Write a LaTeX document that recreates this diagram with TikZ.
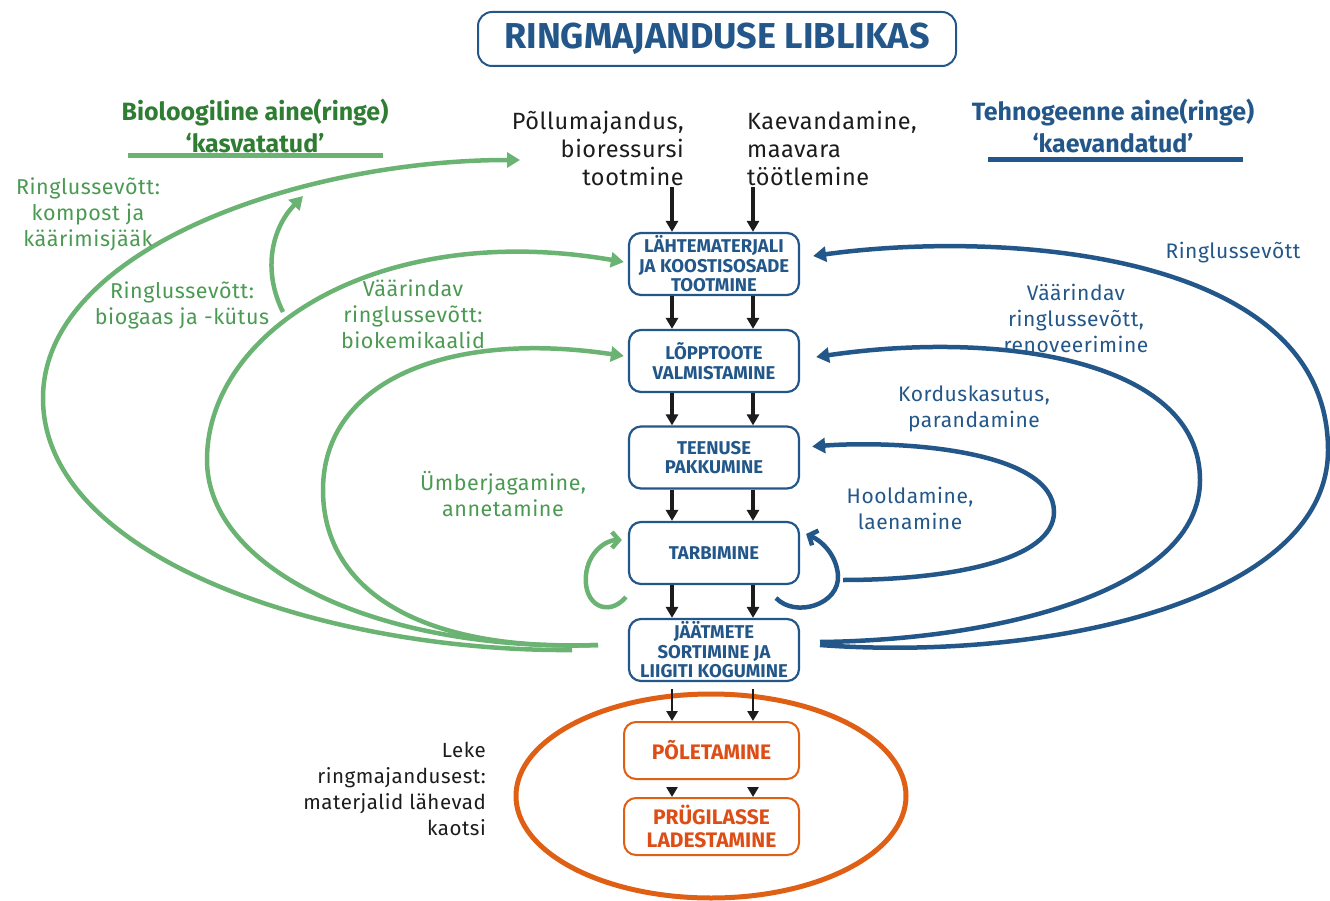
\documentclass[tikz,border=0pt]{standalone}
\usepackage{fontspec}
\setmainfont{Fira Sans}
\newfontfamily\lblfont{Fira Sans}[LetterSpace=2.5]
\usetikzlibrary{arrows.meta}
\definecolor{cblue}{HTML}{23578A}
\definecolor{cgreen}{HTML}{6BB373}
\definecolor{cgreentxt}{HTML}{4A9A52}
\definecolor{cgreenhead}{HTML}{2E7D33}
\definecolor{corange}{HTML}{DF5F14}
\definecolor{corangetxt}{HTML}{DD4E17}
\definecolor{cblack}{HTML}{1C1C1C}
\tikzset{
  stagebox/.style={draw=cblue, line width=2.2pt, rounded corners=12pt, fill=white,
    minimum width=170pt, minimum height=62pt, inner sep=1pt, align=center,
    text=cblue, font=\fontsize{18.5}{19.5}\selectfont\bfseries},
  lossbox/.style={draw=corange, line width=2pt, rounded corners=12pt, fill=white,
    minimum width=175pt, minimum height=57pt, inner sep=2pt, align=center,
    text=corangetxt, font=\fontsize{21}{23}\selectfont\bfseries},
  blkarrow/.style={draw=cblack, line width=3.5pt, -{Triangle[length=11pt,width=12pt]}},
  thinarrow/.style={draw=cblack, line width=2.5pt, -{Triangle[length=10pt,width=11pt]}},
  greenloop/.style={draw=cgreen, line width=4.5pt, -{Triangle[length=13pt,width=15pt]}},
  blueloop/.style={draw=cblue, line width=4.5pt, -{Triangle[length=13pt,width=15pt]}},
  greensmall/.style={draw=cgreen, line width=4.5pt, -{Straight Barb[length=7pt,width=16pt]}},
  bluesmall/.style={draw=cblue, line width=4.5pt, -{Straight Barb[length=7pt,width=16pt]}},
  srctext/.style={inner sep=0pt, text=cblack, font=\lblfont\fontsize{23.5}{28}\selectfont},
  greenlabel/.style={inner sep=0pt, align=center, text=cgreentxt, font=\lblfont\fontsize{21.5}{26}\selectfont},
  bluelabel/.style={inner sep=0pt, align=center, text=cblue, font=\lblfont\fontsize{21}{26}\selectfont},
  headtext/.style={inner sep=0pt, align=center, font=\fontsize{25}{32}\selectfont\bfseries},
}
\begin{document}
\begin{tikzpicture}[x=1pt,y=-1pt]
\useasboundingbox (0,0) rectangle (1330,901);

% title
\node[draw=cblue, line width=2pt, rounded corners=14pt, minimum width=478pt, minimum height=54pt,
  text=cblue, font=\fontsize{36}{38}\selectfont\bfseries] (title) at (717,39) {RINGMAJANDUSE LIBLIKAS};

% headings
\node[headtext, text=cgreenhead] (headL) at (255,126) {Bioloogiline aine(ringe)\\‘kasvatatud’};
\node[headtext, text=cblue] (headR) at (1113,126) {Tehnogeenne aine(ringe)\\‘kaevandatud’};
\draw[cgreen, line width=5pt] (128,156) -- (383,156);
\draw[cblue, line width=5pt] (988,160) -- (1243,160);

% sources
\node[srctext, align=right, anchor=east] (srcL) at (684,148) {Põllumajandus,\\bioressursi\\tootmine};
\node[srctext, align=left, anchor=west] (srcR) at (747,148) {Kaevandamine,\\maavara\\töötlemine};

% stage boxes
\node[stagebox] (b1) at (714,264) {LÄHTEMATERJALI\\JA KOOSTISOSADE\\TOOTMINE};
\node[stagebox] (b2) at (714,361) {LÕPPTOOTE\\VALMISTAMINE};
\node[stagebox] (b3) at (714,457.5) {TEENUSE\\PAKKUMINE};
\node[stagebox] (b4) at (714,553) {TARBIMINE};
\node[stagebox] (b5) at (714,650) {JÄÄTMETE\\SORTIMINE JA\\LIIGITI KOGUMINE};
\node[lossbox] (b6) at (711.5,750.5) {PÕLETAMINE};
\node[lossbox] (b7) at (711.5,826.5) {PRÜGILASSE\\LADESTAMINE};

% leak ellipse
\draw[corange, line width=5pt] (711,796) ellipse [x radius=195, y radius=102];
\node[inner sep=0pt, align=right, anchor=east, text=cblack, font=\lblfont\fontsize{20.5}{26}\selectfont] (leke) at (486,789)
  {Leke\\ringmajandusest:\\materjalid lähevad\\kaotsi};

% black arrows
\coordinate (sL) at (672,187);
\coordinate (sR) at (753,187);
\draw[blkarrow] (sL) -- (b1.north -| sL);
\draw[blkarrow] (sR) -- (b1.north -| sR);
\foreach \a/\b in {b1/b2,b2/b3,b3/b4,b4/b5}{
  \draw[blkarrow] (\a.south -| sL) -- (\b.north -| sL);
  \draw[blkarrow] (\a.south -| sR) -- (\b.north -| sR);
}
\foreach \a/\b in {b5/b6,b6/b7}{
  \draw[thinarrow] ([yshift=-7pt]\a.south -| sL) -- (\b.north -| sL);
  \draw[thinarrow] ([yshift=-7pt]\a.south -| sR) -- (\b.north -| sR);
}

% green curves
\coordinate (gA) at (572,650);
\coordinate (gB) at (598,645);
\coordinate (gTop) at (520,160);
\coordinate (gBr) at (283,312);
\coordinate (gBrEnd) at (303,196);
\draw[greenloop] (gA) .. controls (330,652) and (45,560) .. (43,400)
  .. controls (41,250) and (300,160) .. (gTop);
\draw[greenloop] (gB) .. controls (380,652) and (207,570) .. (207,460)
  .. controls (207,330) and (380,220) .. ([xshift=-4pt,yshift=2pt]b1.west);
\draw[greenloop] (gBr) .. controls (262,270) and (272,228) .. (gBrEnd);
\draw[greenloop] (gB) .. controls (420,652) and (323,590) .. (323,490)
  .. controls (323,380) and (450,330) .. ([xshift=-4pt,yshift=5pt]b2.west);
\coordinate (gl) at (626,597);
\draw[greensmall] (gl) .. controls (608,618) and (583,605) .. (586,575)
  .. controls (588,553) and (605,540) .. ([xshift=-6pt,yshift=13pt]b4.west);

% blue curves
\coordinate (bA) at (820,645);
\coordinate (bB) at (820,642);
\coordinate (bC) at (843,580);
\coordinate (bl) at (776,598);
\draw[blueloop] (bA) .. controls (1050,662) and (1328,600) .. (1328,450)
  .. controls (1328,250) and (1000,230) .. ([xshift=13pt,yshift=8pt]b1.east);
\draw[blueloop] (bB) .. controls (1000,640) and (1200,590) .. (1200,480)
  .. controls (1200,360) and (1000,330) .. ([xshift=16pt,yshift=4pt]b2.east);
\draw[blueloop] (bC) .. controls (950,580) and (1054,560) .. (1054,512)
  .. controls (1054,450) and (900,440) .. ([xshift=12pt,yshift=11pt]b3.east);
\draw[bluesmall] (bl) .. controls (795,618) and (840,605) .. (838,575)
  .. controls (836,553) and (820,540) .. ([xshift=6pt,yshift=19pt]b4.east);

% labels
\node[greenlabel] (l1) at (88,214) {Ringlussevõtt:\\kompost ja\\käärimisjääk};
\node[greenlabel] (l2) at (182,305) {Ringlussevõtt:\\biogaas ja -kütus};
\node[greenlabel] (l3) at (413,314) {Väärindav\\ringlussevõtt:\\biokemikaalid};
\node[greenlabel] (l4) at (503,494) {Ümberjagamine,\\annetamine};
\node[bluelabel] (r1) at (1233,253) {Ringlussevõtt};
\node[bluelabel] (r2) at (1076,318) {Väärindav\\ringlussevõtt,\\renoveerimine};
\node[bluelabel] (r3) at (974,409) {Korduskasutus,\\parandamine};
\node[bluelabel] (r4) at (910,508) {Hooldamine,\\laenamine};
\end{tikzpicture}
\end{document}
